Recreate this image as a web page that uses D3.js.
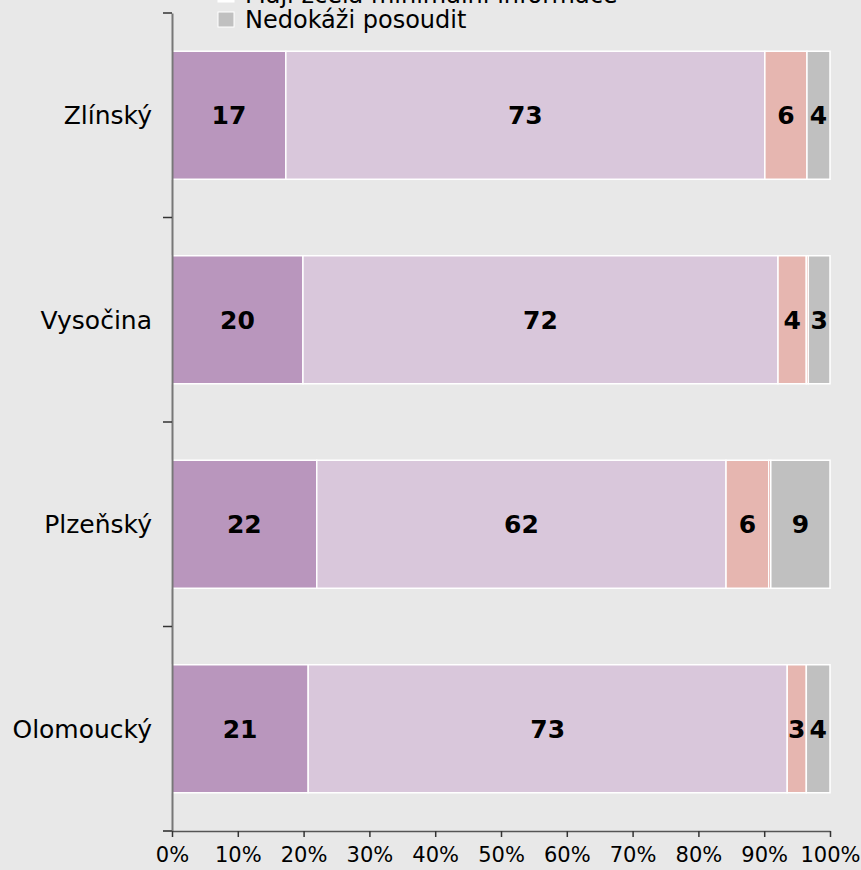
<!DOCTYPE html>
<html>
<head>
<meta charset="utf-8">
<script src="https://cdn.jsdelivr.net/npm/d3@7"></script>
<style>
  body { margin: 0; background: #e8e8e8; }
  svg { display: block; font-family: "DejaVu Sans", Verdana, sans-serif; }
</style>
</head>
<body>
<script>
// regions, top to bottom
const regions = ["Zlínský", "Vysočina", "Plzeňský", "Olomoucký"];
const seriesNames = ["Mají dostatek informací", "Mají spíše minimální informace", "Nemají žádné informace", "Mají zcela minimální informace", "Nedokáži posoudit"];
const seriesColors = ["#b996bd", "#d9c7db", "#e6b6b0", "#d27a72", "#c0c0c0"];
// values per series, in region order
const dostatek = [17.3, 19.9, 22.0, 20.7];
const spise = [72.8, 72.2, 62.2, 72.8];
const nemaji = [6.4, 4.3, 6.5, 2.9];
const minimalni = [0, 0.3, 0.3, 0];
const neposoudit = [3.5, 3.3, 9.0, 3.6];
const labels = [
  ["17", "73", "6", "", "4"],
  ["20", "72", "4", "", "3"],
  ["22", "62", "6", "", "9"],
  ["21", "73", "3", "", "4"]
];
const ticks = [0, 10, 20, 30, 40, 50, 60, 70, 80, 90, 100];

const width = 861, height = 870;
const margin = { top: 13, right: 31, bottom: 39, left: 172 };
const w = width - margin.left - margin.right;
const h = height - margin.top - margin.bottom;

const svg = d3.select("body").append("svg")
    .attr("width", width)
    .attr("height", height);

const g = svg.append("g")
    .attr("transform", "translate(" + margin.left + "," + margin.top + ")");

const x = d3.scaleLinear().domain([0, 100]).range([0, w]);
const y = d3.scaleBand().domain(regions).range([0, h])
    .paddingInner(0.374).paddingOuter(0.187);

const rows = regions.map((r, i) => {
  const o = { region: r };
  o[seriesNames[0]] = dostatek[i];
  o[seriesNames[1]] = spise[i];
  o[seriesNames[2]] = nemaji[i];
  o[seriesNames[3]] = minimalni[i];
  o[seriesNames[4]] = neposoudit[i];
  return o;
});

const stacked = d3.stack().keys(seriesNames)(rows);

stacked.forEach((layer, si) => {
  const lg = g.append("g");
  lg.selectAll("rect")
    .data(layer)
    .enter().append("rect")
    .attr("x", d => x(d[0]))
    .attr("y", d => y(d.data.region))
    .attr("width", d => x(d[1]) - x(d[0]))
    .attr("height", y.bandwidth())
    .attr("fill", seriesColors[si])
    .attr("stroke", "#ffffff")
    .attr("stroke-width", d => (d[1] - d[0]) > 0 ? 1.5 : 0);

  lg.selectAll("text")
    .data(layer)
    .enter().append("text")
    .attr("x", d => x((d[0] + d[1]) / 2))
    .attr("y", d => y(d.data.region) + y.bandwidth() / 2)
    .attr("dy", "0.36em")
    .attr("text-anchor", "middle")
    .attr("font-size", 25)
    .attr("font-weight", "bold")
    .attr("fill", "#000")
    .text((d, i) => labels[i][si]);
});

// y axis
const yAxisG = g.append("g")
    .call(d3.axisLeft(y).tickSize(0).tickFormat(""));
yAxisG.select(".domain").attr("stroke", "#777").attr("stroke-width", 2);
// boundary ticks between categories
const bounds = d3.range(regions.length + 1).map(i => i * y.step());
g.selectAll(".ytick")
  .data(bounds)
  .enter().append("line")
  .attr("x1", -9).attr("x2", 0)
  .attr("y1", d => d).attr("y2", d => d)
  .attr("stroke", "#333").attr("stroke-width", 1.5);

g.selectAll(".ylab")
  .data(regions)
  .enter().append("text")
  .attr("x", -20)
  .attr("y", d => y(d) + y.bandwidth() / 2)
  .attr("dy", "0.36em")
  .attr("text-anchor", "end")
  .attr("font-size", 25)
  .attr("fill", "#000")
  .text(d => d);

// x axis
const xAxisG = g.append("g")
    .attr("transform", "translate(0," + h + ")")
    .call(d3.axisBottom(x).tickValues(ticks).tickSize(6).tickSizeOuter(0).tickPadding(10).tickFormat(d => d + "%"));
xAxisG.select(".domain").attr("stroke", "#555").attr("stroke-width", 1.5);
xAxisG.selectAll(".tick line").attr("stroke", "#333").attr("stroke-width", 1.5);
xAxisG.selectAll(".tick text")
  .attr("font-size", 21)
  .attr("font-family", "DejaVu Sans, Verdana, sans-serif")
  .attr("fill", "#000");
// left x-axis stub past the y axis
g.append("line")
  .attr("x1", -9).attr("x2", 0)
  .attr("y1", h).attr("y2", h)
  .attr("stroke", "#555").attr("stroke-width", 1.5);

// legend (only the last entries fall inside the picture)
const legend = svg.append("g").attr("transform", "translate(218,12)");
const legendItems = seriesNames.slice(3);
const legendColors = ["#ffffff", seriesColors[4]];
legendItems.forEach((name, i) => {
  const row = legend.append("g").attr("transform", "translate(0," + ((i - 1) * 25) + ")");
  row.append("rect")
    .attr("width", 16).attr("height", 15)
    .attr("fill", legendColors[i])
    .attr("stroke", "#ffffff").attr("stroke-width", 1);
  row.append("text")
    .attr("x", 27).attr("y", 16)
    .attr("font-size", 24)
    .attr("fill", "#000")
    .text(name);
});
</script>
</body>
</html>
